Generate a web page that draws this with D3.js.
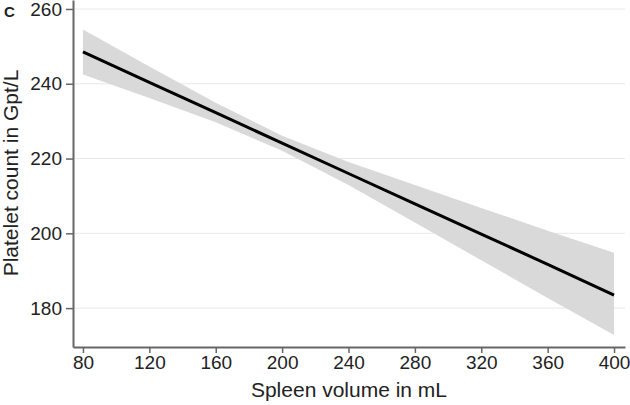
<!DOCTYPE html>
<html>
<head>
<meta charset="utf-8">
<script src="https://cdn.jsdelivr.net/npm/d3@7"></script>
<style>
  body { margin: 0; background: #fff; }
  svg { font-family: "Liberation Sans", Arial, sans-serif; }
</style>
</head>
<body>
<script>
var width = 630, height = 405;

// spleen volume (mL) at which the fit was read
var volumes = [80, 120, 160, 200, 240, 280, 320, 360, 400];
// fitted platelet count (Gpt/L)
var fitted = [248.5, 240.4, 232.3, 224.1, 216.0, 207.9, 199.8, 191.7, 183.5];
// confidence band
var upper = [254.5, 244.6, 234.9, 226.1, 219.1, 212.9, 206.8, 200.7, 194.8];
var lower = [242.5, 236.2, 229.7, 222.1, 212.9, 202.9, 192.8, 182.7, 172.8];

var xTicks = [80, 120, 160, 200, 240, 280, 320, 360, 400];
var yTicks = [180, 200, 220, 240, 260];

var svg = d3.select("body")
    .append("svg")
    .attr("width", width)
    .attr("height", height);

var x = d3.scaleLinear().domain([74, 406.6]).range([73, 625]);
var y = d3.scaleLinear().domain([169.6, 262.4]).range([347, 0]);

var rows = volumes.map(function (v, i) {
    return { x: v, fit: fitted[i], hi: upper[i], lo: lower[i] };
});

// gridlines
svg.append("g")
    .selectAll("line")
    .data(yTicks)
    .enter().append("line")
    .attr("x1", 74)
    .attr("x2", 625)
    .attr("y1", function (d) { return y(d); })
    .attr("y2", function (d) { return y(d); })
    .style("stroke", "#e8e8e8")
    .style("stroke-width", 1);

// band
var area = d3.area()
    .x(function (d) { return x(d.x); })
    .y0(function (d) { return y(d.lo); })
    .y1(function (d) { return y(d.hi); });

svg.append("path")
    .datum(rows)
    .attr("d", area)
    .style("fill", "#d9d9d9");

// fit line
var line = d3.line()
    .x(function (d) { return x(d.x); })
    .y(function (d) { return y(d.fit); });

svg.append("path")
    .datum(rows)
    .attr("d", line)
    .style("fill", "none")
    .style("stroke", "#000")
    .style("stroke-width", 3);

// axes
var xAxis = svg.append("g")
    .attr("transform", "translate(0,347)")
    .call(d3.axisBottom(x).tickValues(xTicks).tickSize(6).tickPadding(3).tickSizeOuter(0));

var yAxis = svg.append("g")
    .attr("transform", "translate(73,0)")
    .call(d3.axisLeft(y).tickValues(yTicks).tickSize(7).tickPadding(4).tickSizeOuter(0));

[xAxis, yAxis].forEach(function (g) {
    g.select(".domain").style("stroke", "#666").style("stroke-width", 2);
    g.selectAll(".tick line").style("stroke", "#666").style("stroke-width", 1.5);
    g.selectAll(".tick text")
        .style("font-family", "Liberation Sans, Arial, sans-serif")
        .style("font-size", "19px")
        .style("fill", "#222");
});

// titles
svg.append("text")
    .attr("x", 349)
    .attr("y", 397)
    .attr("text-anchor", "middle")
    .style("font-size", "21px")
    .style("fill", "#222")
    .text("Spleen volume in mL");

svg.append("text")
    .attr("transform", "translate(18,173) rotate(-90)")
    .attr("text-anchor", "middle")
    .style("font-size", "21px")
    .style("fill", "#222")
    .text("Platelet count in Gpt/L");

svg.append("text")
    .attr("x", 4)
    .attr("y", 17)
    .style("font-size", "15px")
    .style("font-weight", "bold")
    .style("fill", "#222")
    .text("C");
</script>
</body>
</html>
